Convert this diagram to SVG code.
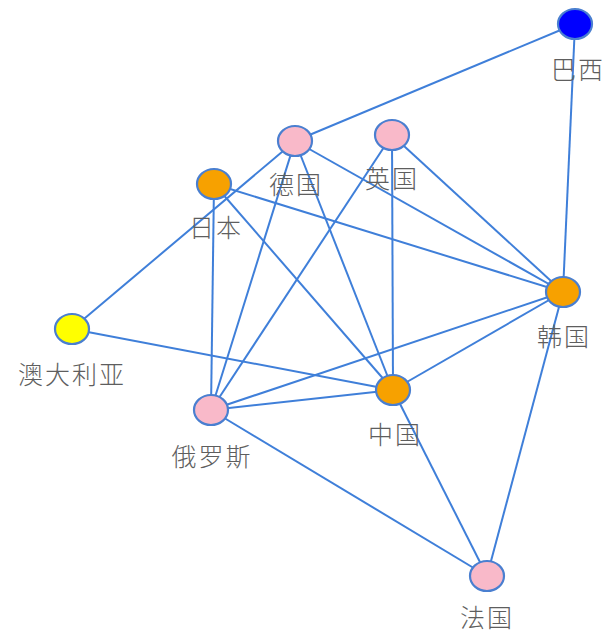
<svg xmlns="http://www.w3.org/2000/svg" width="606" height="636" viewBox="0 0 606 636">
<style>
.e{stroke:#3f7fd9;stroke-width:2;fill:none}
.n{stroke:#4a7fd0;stroke-width:2.2}
.pink{fill:#f9b9c9}
.orange{fill:#f7a100}
.yellow{fill:#ffff00}
.blue{fill:#0000ff}
text{font-family:"Noto Sans CJK SC","Noto Sans",sans-serif;font-size:25px;font-weight:300;fill:#5e5e5e;text-anchor:middle;letter-spacing:2px}
</style>
<rect width="606" height="636" fill="#ffffff"/>
<g id="connectors">
<line class="e" x1="575" y1="24" x2="295" y2="141"/>
<line class="e" x1="575" y1="24" x2="563" y2="292"/>
<line class="e" x1="295" y1="141" x2="211" y2="410"/>
<line class="e" x1="295" y1="141" x2="393" y2="390"/>
<line class="e" x1="295" y1="141" x2="563" y2="292"/>
<line class="e" x1="295" y1="141" x2="72" y2="329"/>
<line class="e" x1="392" y1="135" x2="211" y2="410"/>
<line class="e" x1="392" y1="135" x2="393" y2="390"/>
<line class="e" x1="392" y1="135" x2="563" y2="292"/>
<line class="e" x1="214" y1="184" x2="211" y2="410"/>
<line class="e" x1="214" y1="184" x2="393" y2="390"/>
<line class="e" x1="214" y1="184" x2="563" y2="292"/>
<line class="e" x1="72" y1="329" x2="393" y2="390"/>
<line class="e" x1="211" y1="410" x2="393" y2="390"/>
<line class="e" x1="211" y1="410" x2="563" y2="292"/>
<line class="e" x1="211" y1="410" x2="487" y2="576"/>
<line class="e" x1="393" y1="390" x2="563" y2="292"/>
<line class="e" x1="393" y1="390" x2="487" y2="576"/>
<line class="e" x1="563" y1="292" x2="487" y2="576"/>
</g>
<g id="node-brazil"><ellipse class="n blue" cx="575" cy="24" rx="17" ry="15"/><text x="578" y="79">巴西</text></g>
<g id="node-germany"><ellipse class="n pink" cx="295" cy="141" rx="17" ry="15"/><text x="296" y="194">德国</text></g>
<g id="node-uk"><ellipse class="n pink" cx="392" cy="135" rx="17" ry="15"/><text x="392" y="188">英国</text></g>
<g id="node-japan"><ellipse class="n orange" cx="214" cy="184" rx="17" ry="15"/><text x="216" y="237">日本</text></g>
<g id="node-korea"><ellipse class="n orange" cx="563" cy="292" rx="17" ry="15"/><text x="564" y="346">韩国</text></g>
<g id="node-australia"><ellipse class="n yellow" cx="72" cy="329" rx="17" ry="15"/><text x="72" y="384">澳大利亚</text></g>
<g id="node-china"><ellipse class="n orange" cx="393" cy="390" rx="17" ry="15"/><text x="395" y="444">中国</text></g>
<g id="node-russia"><ellipse class="n pink" cx="211" cy="410" rx="17" ry="15"/><text x="212" y="466">俄罗斯</text></g>
<g id="node-france"><ellipse class="n pink" cx="487" cy="576" rx="17" ry="15"/><text x="487" y="627">法国</text></g>
</svg>
